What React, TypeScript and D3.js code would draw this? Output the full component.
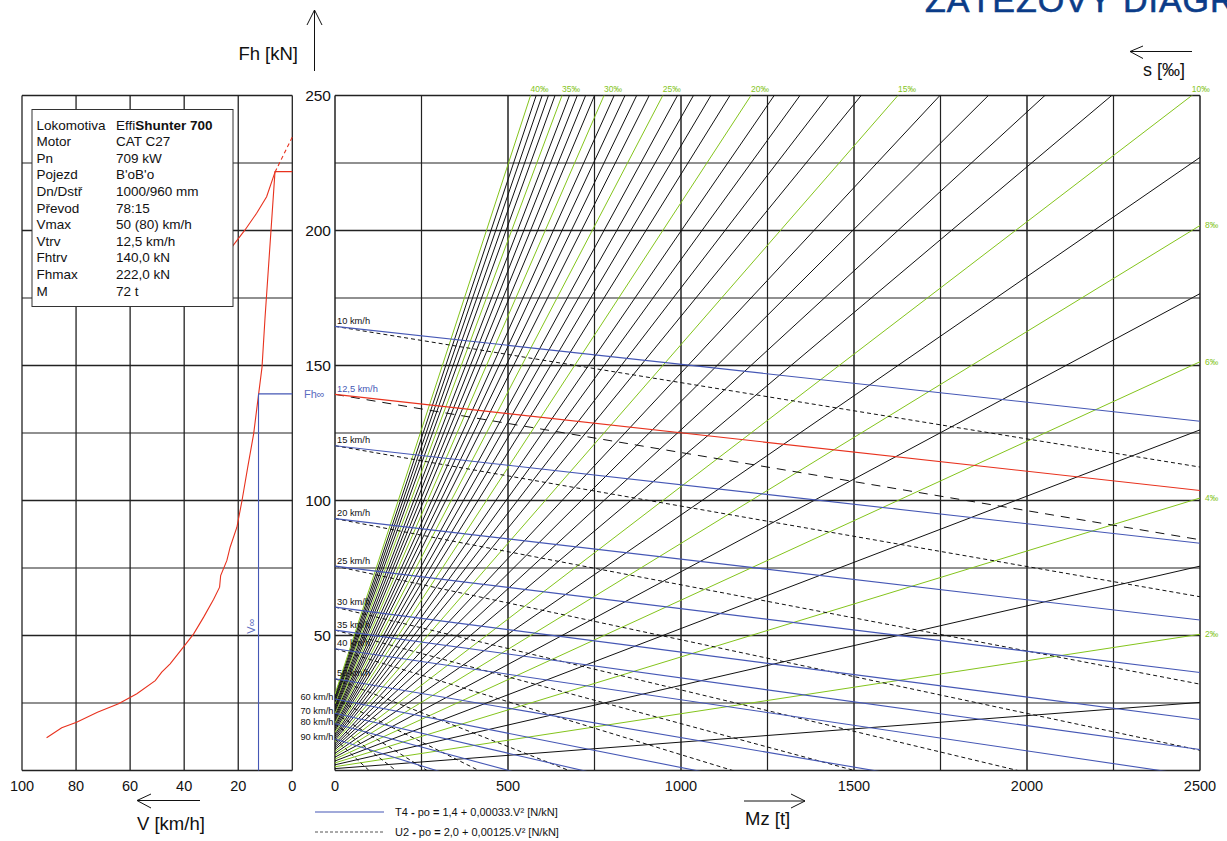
import React from "react";
import * as d3 from "d3";

// ---- data ----
const locoMass = 72; // t (M in the info box)
const g = 9.81;

// grade lines s [‰]
const grades = [1, 2, 3, 4, 5, 6, 7, 8, 9, 10, 11, 12, 13, 14, 15, 16, 17, 18, 19, 20,
  21, 22, 23, 24, 25, 26, 27, 28, 29, 30, 31, 32, 33, 34, 35, 36, 37, 38, 39, 40];
const greenGrades = [2, 4, 6, 8, 10, 15, 20, 25, 30, 35, 40];

// speed lines: start value at Mz = 0
const speeds = [10, 12.5, 15, 20, 25, 30, 35, 40, 50, 60, 70, 80, 90];
const speedLabels = ["10 km/h", "12,5 km/h", "15 km/h", "20 km/h", "25 km/h", "30 km/h", "35 km/h",
  "40 km/h", "50 km/h", "60 km/h", "70 km/h", "80 km/h", "90 km/h"];
const speedFh0 = [164.5, 139.3, 120.3, 93.3, 75.7, 60.5, 52.0, 45.1, 34.0, 26.5, 21.2, 17.3, 11.7];

// running resistance (legend) po = a + b.V^2 [N/kN]
const t4 = [1.4, 0.00033];
const u2 = [2.0, 0.00125];

// tractive force curve (left panel)
const curveV = [90.9, 85.3, 79.8, 72.1, 64.3, 57.5, 50.7, 48.3, 45.2, 40.3, 36.5, 32.8, 29.1, 26.9,
  26.5, 24.2, 23.0, 20.5, 18.6, 16.5, 14.3, 12.5, 11.2, 10.1, 6.4, 0];
const curveFh = [12.1, 15.8, 17.9, 21.6, 24.7, 28.4, 33.3, 36.4, 39.5, 45.7, 50.6, 56.8, 63.4, 67.9,
  72.2, 77.8, 82.7, 90.1, 100, 112.3, 124.7, 139.1, 149.4, 167.5, 221.8, 221.8];
// adhesion limit
const adhV = [24.0, 21.8, 17.5, 13.2, 9.5, 6.4];
const adhFh = [191.5, 194.6, 200.2, 206.4, 212.5, 221.6];
const adhDashV = [6.4, 0];
const adhDashFh = [221.6, 234.6];

const vInf = 12.5;
const fhInf = 139.5;

const infoLabels = ["Lokomotiva", "Motor", "Pn", "Pojezd", "Dn/Dstř", "Převod", "Vmax", "Vtrv", "Fhtrv", "Fhmax", "M"];
const infoValues = ["EffiShunter 700", "CAT C27", "709 kW", "B'oB'o", "1000/960 mm", "78:15", "50 (80) km/h",
  "12,5 km/h", "140,0 kN", "222,0 kN", "72 t"];

const fhTicks = [0, 25, 50, 75, 100, 125, 150, 175, 200, 225, 250];
const fhLabels = [50, 100, 150, 200, 250];
const vTicks = [100, 80, 60, 40, 20, 0];
const mzTicks = [0, 250, 500, 750, 1000, 1250, 1500, 1750, 2000, 2250, 2500];
const mzLabels = [0, 500, 1000, 1500, 2000, 2500];

// ---- styles ----
const FONT = "'Liberation Sans', Arial, sans-serif";
const GREEN = "#84c41c";
const BLUE = "#4557b5";
const RED = "#e8321e";

const yS = d3.scaleLinear().domain([0, 250]).range([770.5, 95.5]);
const xL = d3.scaleLinear().domain([100, 0]).range([22, 292.3]);
const xR = d3.scaleLinear().domain([0, 2500]).range([335, 1200]);

const line = d3.line<[number, number]>().x(d => d[0]).y(d => d[1]);

function gradeFh(s: number, mz: number) {
  return (locoMass + mz) * g * s / 1000;
}

function speedFh(fh0: number, v: number, coef: number[], mz: number) {
  return fh0 - mz * g * (coef[0] + coef[1] * v * v) / 1000;
}

export default function App() {
  const [m0, m1] = xR.domain();
  return (
    <svg width={1227} height={841} style={{ position: "absolute", left: 0, top: 0, background: "#fff" }}
      fontFamily={FONT}>
      <defs>
        <clipPath id="rp">
          <rect x={335} y={95.5} width={865} height={675} />
        </clipPath>
      </defs>

      {/* title, cut by the top edge as in the source */}
      <text x={925} y={12} fontSize={34} fill="#0b3c88" letterSpacing={1} stroke="#0b3c88" strokeWidth={0.6}>
        ZÁTĚŽOVÝ DIAGRAM
      </text>

      {/* left panel grid */}
      <g stroke="#222">
        {fhTicks.map(f => (
          <line key={"lh" + f} x1={xL(100)} x2={xL(0)} y1={yS(f)} y2={yS(f)} strokeWidth={f % 50 === 0 ? 1.7 : 1.2} />
        ))}
        {vTicks.map(v => (
          <line key={"lv" + v} x1={xL(v)} x2={xL(v)} y1={yS(0)} y2={yS(250)} strokeWidth={1.3} />
        ))}
      </g>

      {/* left panel curves */}
      <path d={line(adhV.map((v, i) => [xL(v), yS(adhFh[i])]))!} fill="none" stroke={RED} strokeWidth={1.1} />
      <path d={line(adhDashV.map((v, i) => [xL(v), yS(adhDashFh[i])]))!} fill="none" stroke={RED} strokeWidth={1.1}
        strokeDasharray="4,3" />
      <path d={line(curveV.map((v, i) => [xL(v), yS(curveFh[i])]))!} fill="none" stroke={RED} strokeWidth={1.1} />
      <line x1={xL(vInf)} x2={xL(vInf)} y1={yS(0)} y2={yS(fhInf)} stroke={BLUE} strokeWidth={1.1} />
      <line x1={xL(vInf)} x2={xL(0)} y1={yS(fhInf)} y2={yS(fhInf)} stroke={BLUE} strokeWidth={1.1} />
      <text x={304} y={yS(fhInf)} dy="0.35em" fontSize={11} fill="#5a6bc0">Fh∞</text>
      <text transform={`translate(${xL(vInf) - 7},${yS(53.5)}) rotate(-90)`} textAnchor="middle" dy="0.35em"
        fontSize={11} fill="#5a6bc0">V∞</text>

      {/* info box */}
      <rect x={32} y={109.5} width={201} height={197} fill="#fff" stroke="#333" strokeWidth={1} />
      {infoLabels.map((l, i) => (
        <g key={l} fontSize={13.5} fill="#111">
          <text x={36.5} y={129.5 + i * 16.6}>{l}</text>
          <text x={116} y={129.5 + i * 16.6}>
            {i === 0 ? (<><tspan>Effi</tspan><tspan fontWeight="bold">Shunter 700</tspan></>) : infoValues[i]}
          </text>
        </g>
      ))}

      {/* right panel grid */}
      <g stroke="#222">
        {fhTicks.map(f => (
          <line key={"rh" + f} x1={xR(m0)} x2={xR(m1)} y1={yS(f)} y2={yS(f)} strokeWidth={f % 50 === 0 ? 1.7 : 1.2} />
        ))}
        {mzTicks.map(m => (
          <line key={"rv" + m} x1={xR(m)} x2={xR(m)} y1={yS(0)} y2={yS(250)} strokeWidth={m % 500 === 0 ? 1.5 : 1.2} />
        ))}
      </g>

      {/* grade lines */}
      <g clipPath="url(#rp)" fill="none">
        {grades.map(s => (
          <path key={"s" + s}
            d={line([[xR(m0), yS(gradeFh(s, m0))], [xR(m1), yS(gradeFh(s, m1))]])!}
            stroke={greenGrades.includes(s) ? GREEN : "#111"} strokeWidth={1} />
        ))}
      </g>

      {/* speed lines */}
      <g clipPath="url(#rp)" fill="none">
        {speeds.map((v, i) => (
          <path key={"u" + v}
            d={line([[xR(m0), yS(speedFh(speedFh0[i], v, u2, m0))], [xR(m1), yS(speedFh(speedFh0[i], v, u2, m1))]])!}
            stroke="#111" strokeWidth={1} strokeDasharray={v === 12.5 ? "9,7" : "4,3"} />
        ))}
        {speeds.map((v, i) => (
          <path key={"t" + v}
            d={line([[xR(m0), yS(speedFh(speedFh0[i], v, t4, m0))], [xR(m1), yS(speedFh(speedFh0[i], v, t4, m1))]])!}
            stroke={v === 12.5 ? RED : BLUE} strokeWidth={1.1} />
        ))}
      </g>

      {/* speed labels */}
      {speeds.map((v, i) => (
        v <= 50 ? (
          <text key={"sl" + v} x={xR(0) + 2} y={yS(speedFh0[i]) - 2.5} fontSize={9.3}
            fill={v === 12.5 ? BLUE : "#111"}>{speedLabels[i]}</text>
        ) : (
          <text key={"sl" + v} x={xR(0) - 1.5} y={yS(speedFh0[i]) + 1} textAnchor="end" fontSize={9.3}
            fill="#111">{speedLabels[i]}</text>
        )
      ))}

      {/* grade labels */}
      {greenGrades.map(s => {
        const atEnd = gradeFh(s, m1);
        if (atEnd > 250) {
          const mz = 250 * 1000 / (g * s) - locoMass;
          return <text key={"gl" + s} x={xR(mz)} y={92} fontSize={8.5} fill={GREEN}>{s}‰</text>;
        }
        return <text key={"gl" + s} x={1205} y={yS(atEnd)} dy="0.35em" fontSize={8.5} fill={GREEN}>{s}‰</text>;
      })}

      {/* tick labels */}
      <g fontSize={15.5} fill="#111">
        {fhLabels.map(f => (
          <text key={"fl" + f} x={331} y={yS(f)} dy="0.36em" textAnchor="end">{f}</text>
        ))}
      </g>
      <g fontSize={14.5} fill="#111" textAnchor="middle">
        {vTicks.map(v => (
          <text key={"vl" + v} x={xL(v)} y={786} dy="0.36em">{v}</text>
        ))}
        {mzLabels.map(m => (
          <text key={"ml" + m} x={xR(m)} y={786} dy="0.36em">{m}</text>
        ))}
      </g>

      {/* axis titles & arrows */}
      <g fill="none" stroke="#111" strokeWidth={1}>
        <path d="M314.5,71 L314.5,10 M307,25 L314.5,10 L322,25" />
        <path d="M200,800.5 L137,800.5 M151,794 L137,800.5 L151,808" />
        <path d="M744,801 L805,801 M791,794 L805,801 L791,808" />
        <path d="M1192,51.5 L1130,51.5 M1143,46 L1130,51.5 L1143,58.5" />
      </g>
      <g fontSize={18.5} fill="#111">
        <text x={298} y={53} dy="0.36em" textAnchor="end">Fh [kN]</text>
        <text x={137} y={823} dy="0.36em">V [km/h]</text>
        <text x={745} y={818} dy="0.36em">Mz [t]</text>
        <text x={1143} y={70} dy="0.36em" fontSize={18}>s [‰]</text>
      </g>

      {/* legend */}
      <line x1={315} x2={384} y1={812} y2={812} stroke={BLUE} strokeWidth={1.1} />
      <line x1={315} x2={384} y1={832} y2={832} stroke="#555" strokeWidth={1} strokeDasharray="3,2" />
      <g fontSize={11} fill="#111">
        <text x={395} y={812} dy="0.35em">T4 <tspan fontWeight="bold">-</tspan> po <tspan fontWeight="bold">=</tspan> 1,4 + 0,00033.V² [N/kN]</text>
        <text x={395} y={832} dy="0.35em">U2 <tspan fontWeight="bold">-</tspan> po <tspan fontWeight="bold">=</tspan> 2,0 + 0,00125.V² [N/kN]</text>
      </g>
    </svg>
  );
}
